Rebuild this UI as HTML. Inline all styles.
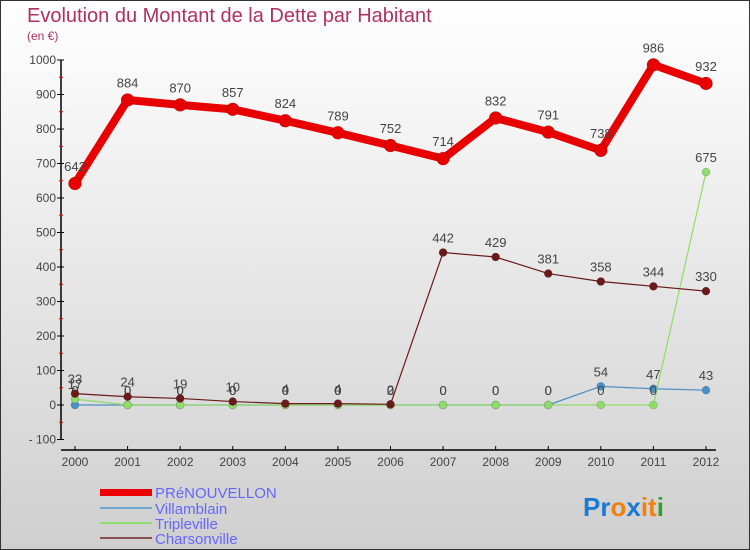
<!DOCTYPE html>
<html><head><meta charset="utf-8">
<style>
html,body{margin:0;padding:0}
body{width:750px;height:550px;overflow:hidden;font-family:"Liberation Sans","DejaVu Sans",sans-serif}
#wrap{position:absolute;left:0;top:0;width:748px;height:548px;border:1px solid #333;background:linear-gradient(#ffffff,#cfcfcf)}
</style></head>
<body>
<div id="wrap">
<svg id="chart" width="750" height="550" style="position:absolute;left:-1px;top:-1px">
<text x="27" y="22" font-size="20" fill="#b03060">Evolution du Montant de la Dette par Habitant</text>
<text x="27" y="40" font-size="12" fill="#b03060">(en €)</text>
<g id="axes"></g>
<g id="series"></g>
<g id="legend">
<rect x="100" y="489" width="52" height="7" fill="#e00"/>
<text x="155" y="498" font-size="15" fill="#6666ff">PRéNOUVELLON</text>
<rect x="100" y="507" width="52" height="2" fill="#6fa8d0"/>
<text x="155" y="514" font-size="15" fill="#6666ff">Villamblain</text>
<rect x="100" y="522" width="52" height="2" fill="#8fdc6a"/>
<text x="155" y="529" font-size="15" fill="#6666ff">Tripleville</text>
<rect x="100" y="537" width="52" height="2" fill="#8b5050"/>
<text x="155" y="544" font-size="15" fill="#6666ff">Charsonville</text>
</g>
<text x="583" y="516" font-size="26" font-weight="bold"><tspan fill="#1a7ad4">Pr</tspan><tspan fill="#f08010">o</tspan><tspan fill="#1a7ad4">x</tspan><tspan fill="#f08010">it</tspan><tspan fill="#30a030">i</tspan></text>
</svg>
</div>
<script>
const years = [2000,2001,2002,2003,2004,2005,2006,2007,2008,2009,2010,2011,2012];
const yTicks = [-100,0,100,200,300,400,500,600,700,800,900,1000];
const prenouvellon = [642,884,870,857,824,789,752,714,832,791,738,986,932];
const villamblain = [0,0,0,0,0,0,0,0,0,0,54,47,43];
const tripleville = [17,0,0,0,0,0,0,0,0,0,0,0,675];
const charsonville = [33,24,19,10,4,4,2,442,429,381,358,344,330];

const NS="http://www.w3.org/2000/svg";
function x(i){return 75+(706-75)*i/(years.length-1);}
function y(v){return 405-v*0.345;}
function mk(tag,attrs,parent){const e=document.createElementNS(NS,tag);for(const k in attrs)e.setAttribute(k,attrs[k]);parent.appendChild(e);return e;}
const axes=document.getElementById('axes');
const yl=mk('line',{x1:61,y1:y(1000),x2:61,y2:y(-100),stroke:'#000','stroke-width':1.5},axes);


yTicks.forEach(t=>{
  const l=mk('line',{x1:57,y1:y(t),x2:64,y2:y(t),stroke:'#000'},axes);
  
  
  const m=mk('line',{x1:59,y1:y(t+50),x2:63,y2:y(t+50),stroke:'#e00'},axes);
  if(t===1000)m.remove();
  
  
  const tx=mk('text',{x:56,y:y(t)+4,'text-anchor':'end','font-size':12,fill:'#444'},axes);
  tx.textContent=(t<0?'- '+(-t):t);
  
  
});
const xl=mk('line',{x1:61,y1:450,x2:716,y2:450,stroke:'#000','stroke-width':1.5},axes);


years.forEach((yr,i)=>{
  const l=mk('line',{x1:x(i),y1:446,x2:x(i),y2:450,stroke:'#000'},axes);
  
  
  const tx=mk('text',{x:x(i),y:466,'text-anchor':'middle','font-size':12,fill:'#444'},axes);
  tx.textContent=yr;
  
  
});
const ser=document.getElementById('series');
function draw(vals,name,color,w,r,fs,labels){
  const g=mk('g',{},ser);
  
  
  const p=mk('polyline',{points:vals.map((v,i)=>x(i)+','+y(v)).join(' '),fill:'none',stroke:color,'stroke-width':w,'stroke-linejoin':'round'},g);
  
  
  vals.forEach((v,i)=>{
    const c=mk('circle',{cx:x(i),cy:y(v),r:r,fill:color,stroke:'rgba(0,0,0,0.25)','stroke-width':0.5},g);
    
    
    if(labels){
      const t=mk('text',{x:x(i),y:y(v)-(r+6),'text-anchor':'middle','font-size':fs,fill:'#444'},g);
      t.textContent=v;
      
      
    }
  });
}
draw(villamblain,'villamblain','#4a90c8',1.2,4,13,true);
draw(tripleville,'tripleville','#8fdc6a',1.2,4,13,true);
draw(charsonville,'charsonville','#6b1a1a',1.2,4,13,true);
draw(prenouvellon,'prenouvellon','#e80000',8,6.5,13,true);
</script>
</body></html>
